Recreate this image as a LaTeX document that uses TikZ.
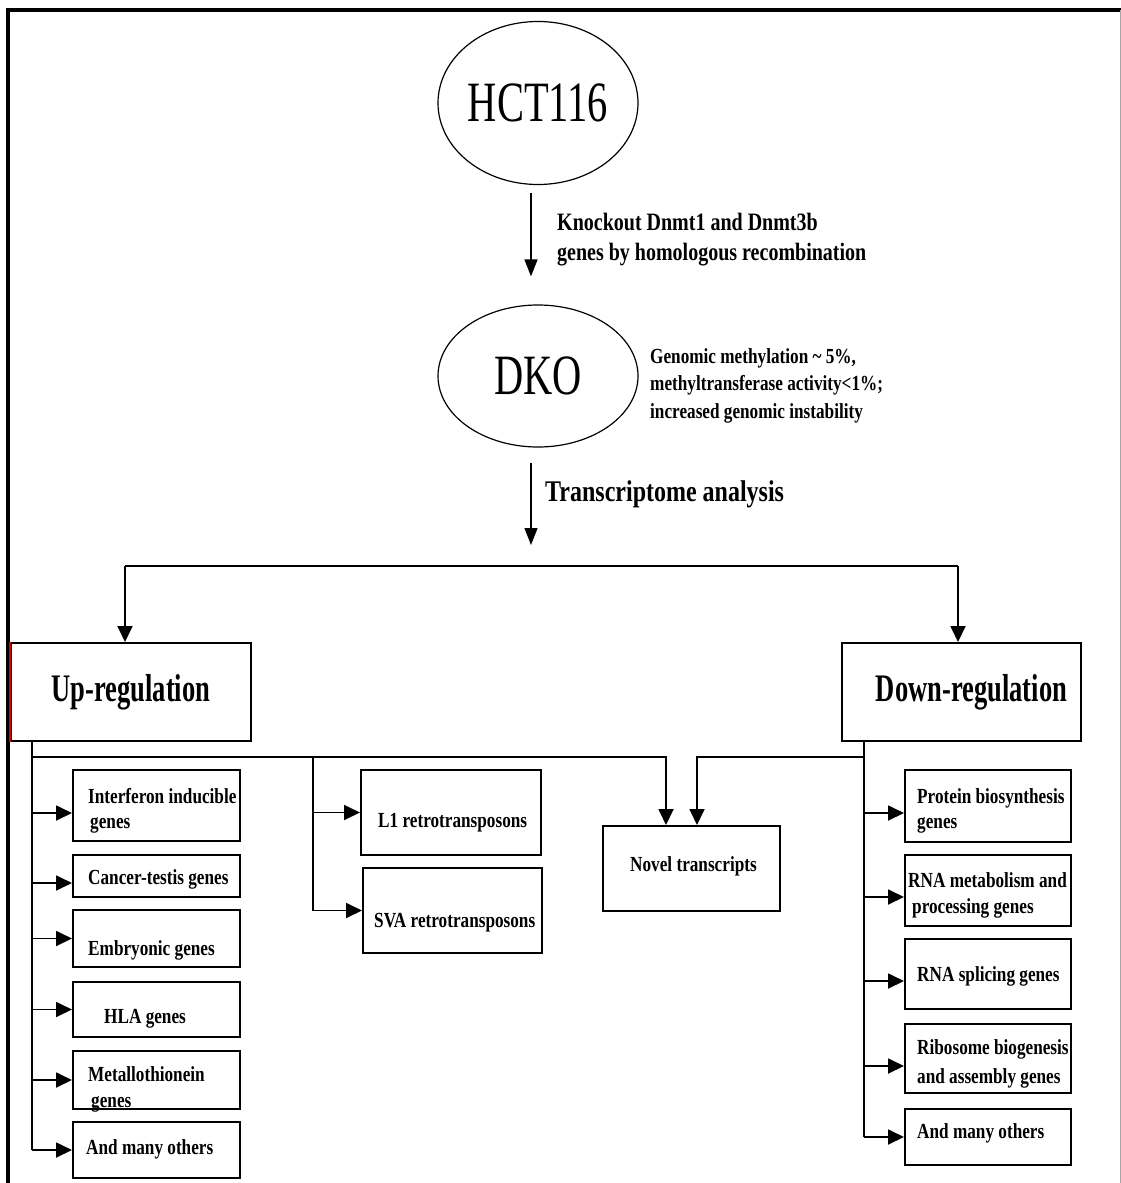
\documentclass[tikz,border=0pt]{standalone}
\usepackage{fontspec}
\setmainfont{Liberation Serif}
\newfontfamily\condA[FakeStretch=0.8]{Liberation Serif}
\newfontfamily\condB[FakeStretch=0.68]{Liberation Serif}
\newfontfamily\condC[FakeStretch=0.71]{Liberation Serif}
\usetikzlibrary{arrows.meta,shapes.geometric}
\begin{document}
\begin{tikzpicture}[x=1pt,y=-1pt,
  gbox/.style={draw, line width=2pt, inner sep=0pt},
  oval/.style={ellipse, draw, line width=1.2pt, inner sep=0pt, minimum width=200pt, font=\condC\fontsize{57}{60}\selectfont},
  lbl/.style={inner sep=0pt, align=left, font=\condA\bfseries\fontsize{21.5}{25}\selectfont},
  big/.style={font=\condB\bfseries\fontsize{39}{45}\selectfont},
  conn/.style={line width=1.8pt},
  arr/.style={conn, -{Triangle[length=16pt,width=15pt]}},
  thinarr/.style={line width=1.3pt, -{Triangle[length=17pt,width=13pt]}}]
\useasboundingbox (0,0) rectangle (1121,1183);
\fill[white] (0,0) rectangle (1121,1183);
% frame
\draw[line width=4.5pt] (8,1183) -- (8,10) -- (1121,10);
\draw[black!35, line width=1pt] (1120,10) -- (1120,1183);

% top ellipses
\node[oval, minimum height=163pt] (hct) at (538,103) {HCT116};
\node[oval, minimum height=142pt] (dko) at (538,376) {DKO};

\draw[thinarr] ([xshift=-7pt,yshift=-8pt]hct.south) -- ([xshift=-7pt,yshift=28pt]dko.north);
\node[anchor=west, inner sep=0pt, align=left, font=\condA\bfseries\fontsize{25}{30}\selectfont] (ko) at (557,239.2)
  {Knockout Dnmt1 and Dnmt3b\\genes by homologous recombination};
\node[anchor=west, inner sep=0pt, align=left, font=\condA\bfseries\fontsize{21.5}{27.5}\selectfont] (note) at (650,385.5)
  {Genomic methylation \textasciitilde{} 5\%,\\methyltransferase activity<1\%;\\increased genomic instability};

\coordinate (ta) at (531,545);
\draw[thinarr] ([xshift=-7pt,yshift=-15pt]dko.south) -- (ta);
\node[anchor=base west, inner sep=0pt, font=\condA\bfseries\fontsize{30}{36}\selectfont] (tal) at (545,501) {Transcriptome analysis};

% up / down boxes
\node[gbox, big, minimum width=240pt, minimum height=98pt] (up) at (131,692) {Up-regulation};
\node[gbox, big, minimum width=239pt, minimum height=98pt] (down) at (961.5,692) {\hspace*{20pt}Down-regulation};
\draw[red!85!black, line width=1.2pt] (up.north west) -- (up.south west);

\coordinate (hl) at (125,566);
\coordinate (hr) at (958,566);
\draw[conn] (hl) -- (hr);
\draw[arr] (hl) -- (hl |- up.north);
\draw[arr] (hr) -- (hr |- down.north);

% left column boxes
\node[gbox, minimum width=167pt, minimum height=71pt] (ifn) at (156.5,805.5) {};
\node[gbox, minimum width=167pt, minimum height=42pt] (cts) at (156.5,876) {};
\node[gbox, minimum width=167pt, minimum height=57pt] (emb) at (156.5,938.5) {};
\node[gbox, minimum width=167pt, minimum height=55pt] (hla) at (156.5,1009.5) {};
\node[gbox, minimum width=167pt, minimum height=58pt] (met) at (156.5,1080) {};
\node[gbox, minimum width=167pt, minimum height=56pt] (othl) at (156.5,1150) {};

\node[lbl, anchor=west] (ifnt) at (88,810.5) {Interferon inducible\\\hspace*{2pt}genes};
\node[lbl, anchor=base west] (ctst) at (88,884) {Cancer-testis genes};
\node[lbl, anchor=base west] (embt) at (88,955) {Embryonic genes};
\node[lbl, anchor=base west] (hlat) at (104,1023) {HLA genes};
\node[lbl, anchor=west, font=\condA\bfseries\fontsize{21.5}{26}\selectfont] (mett) at (88,1089) {Metallothionein\\\hspace*{3pt}genes};
\node[lbl, anchor=base west] (othlt) at (86,1154) {And many others};

% middle boxes
\node[gbox, minimum width=180pt, minimum height=85pt] (lone) at (451,812.5) {};
\node[gbox, minimum width=179pt, minimum height=85pt] (sva) at (452.5,910.5) {};
\node[gbox, minimum width=177pt, minimum height=85pt] (nov) at (691.5,868.5) {};
\node[lbl, anchor=base west] (lonet) at (378,827) {L1 retrotransposons};
\node[lbl, anchor=base west] (svat) at (374,927) {SVA retrotransposons};
\node[lbl, anchor=base west] (novt) at (630,871) {Novel transcripts};

% right column boxes
\node[gbox, minimum width=166pt, minimum height=72pt] (pro) at (988,806) {};
\node[gbox, minimum width=166pt, minimum height=71pt] (rmet) at (988,890.5) {};
\node[gbox, minimum width=166pt, minimum height=70pt] (spl) at (988,974) {};
\node[gbox, minimum width=166pt, minimum height=69pt] (ribo) at (988,1058.5) {};
\node[gbox, minimum width=166pt, minimum height=56pt] (othr) at (988,1137) {};
\node[lbl, anchor=west] (prot) at (917,810.5) {Protein biosynthesis\\genes};
\node[lbl, anchor=west, font=\condA\bfseries\fontsize{21.5}{26}\selectfont] (rmett) at (908,895) {RNA metabolism and\\\hspace*{4pt}processing genes};
\node[lbl, anchor=base west] (splt) at (917,981) {RNA splicing genes};
\node[lbl, anchor=west, font=\condA\bfseries\fontsize{21.5}{29}\selectfont] (ribot) at (917,1063.5) {Ribosome biogenesis\\and assembly genes};
\node[lbl, anchor=base west] (othrt) at (917,1138) {And many others};

% branching connectors
\coordinate (ls) at (32,757);
\coordinate (ms) at (313,757);
\coordinate (rs) at (864,757);
\coordinate (na) at (666,757);
\coordinate (nb) at (697,757);

\draw[conn] (up.south -| ls) -- (ls |- othl.west);
\draw[arr] (ls) -- (na) -- (na |- nov.north);
\draw[conn] (ms) -- (ms |- sva.west);
\draw[conn] (down.south -| rs) -- (rs |- othr.west);
\draw[arr] (rs) -- (nb) -- (nb |- nov.north);

\draw[arr] ([yshift=-7.5pt]ifn.west -| ls) -- ([yshift=-7.5pt]ifn.west);
\draw[arr] ([yshift=-7pt]cts.west -| ls) -- ([yshift=-7pt]cts.west);
\draw[arr] (emb.west -| ls) -- (emb.west);
\draw[arr] (hla.west -| ls) -- (hla.west);
\draw[arr] (met.west -| ls) -- (met.west);
\draw[arr] (othl.west -| ls) -- (othl.west);

\draw[arr] (lone.west -| ms) -- (lone.west);
\draw[arr] (sva.west -| ms) -- (sva.west);

\draw[arr] ([yshift=-7pt]pro.west -| rs) -- ([yshift=-7pt]pro.west);
\draw[arr] ([yshift=-6.5pt]rmet.west -| rs) -- ([yshift=-6.5pt]rmet.west);
\draw[arr] ([yshift=-7pt]spl.west -| rs) -- ([yshift=-7pt]spl.west);
\draw[arr] ([yshift=-7.5pt]ribo.west -| rs) -- ([yshift=-7.5pt]ribo.west);
\draw[arr] (othr.west -| rs) -- (othr.west);
\end{tikzpicture}
\end{document}
